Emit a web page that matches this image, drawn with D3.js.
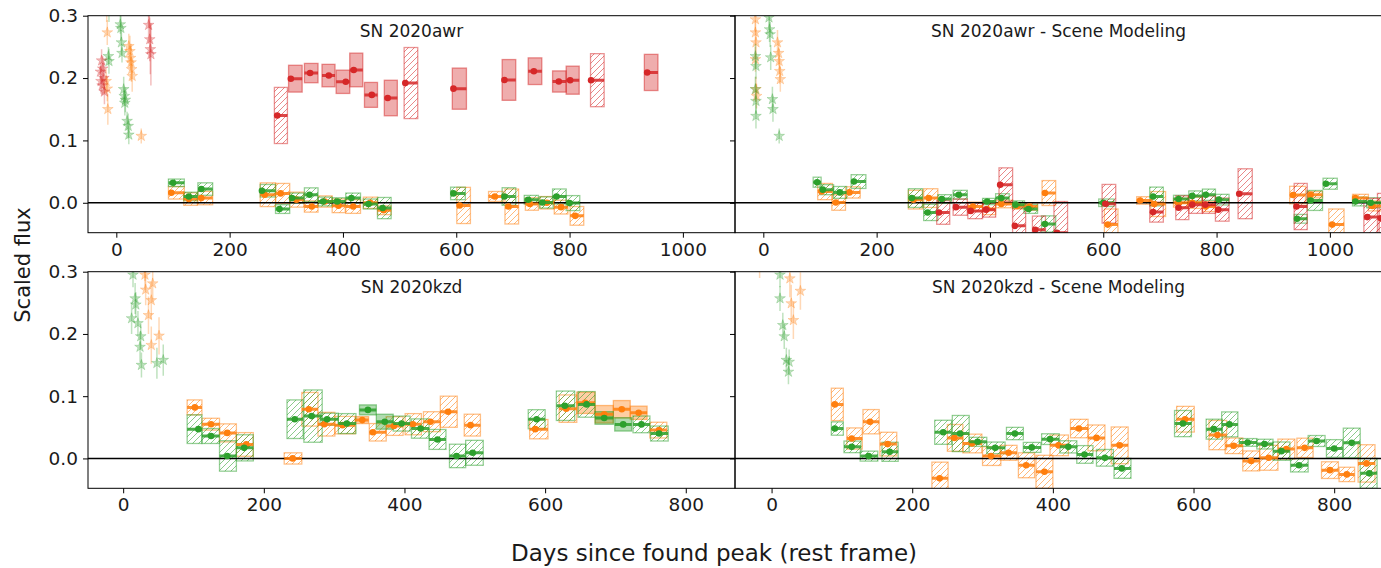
<!DOCTYPE html>
<html>
<head>
<meta charset="utf-8">
<script src="https://cdn.jsdelivr.net/npm/d3@7"></script>
<style>
  html, body { margin: 0; padding: 0; background: #fff; }
  svg { display: block; }
  text { font-family: "DejaVu Sans", sans-serif; }
</style>
</head>
<body>
<svg id="fig" width="1381" height="568"></svg>
<script>
// ---------------------------------------------------------------
// Early-time photometry: [day, flux, err]
// ---------------------------------------------------------------
const awrStarsI = [[-28,0.210,0.015],[-27,0.195,0.020],[-26,0.228,0.018],[-25,0.188,0.015],[-24,0.215,0.020],[-22,0.200,0.025],[-21,0.178,0.020],
                   [57,0.285,0.030],[58,0.310,0.030],[59,0.262,0.035],[60,0.246,0.040],[61,0.238,0.050]];
const awrStarsR = [[-17,0.310,0.020],[-16,0.273,0.020],[-16,0.183,0.020],[-15,0.150,0.025],[-18,0.195,0.020],
                   [22,0.251,0.020],[24,0.243,0.025],[25,0.232,0.020],[26,0.225,0.030],[27,0.214,0.020],[28,0.203,0.025],[44,0.107,0.012]];
const awrStarsG = [[-14,0.235,0.015],[-13,0.227,0.020],[-13,0.310,0.020],
                   [7,0.286,0.015],[8,0.280,0.020],[9,0.257,0.020],[10,0.240,0.015],
                   [13,0.182,0.020],[14,0.171,0.015],[15,0.160,0.020],[16,0.165,0.020],
                   [19,0.131,0.015],[21,0.123,0.020],[22,0.109,0.015]];

const awrSceneStarsR = [[-14,0.294,0.020],[-14,0.273,0.020],[-13,0.257,0.020],[-14,0.230,0.020],[-13,0.182,0.020],[-12,0.171,0.020],
                        [25,0.257,0.020],[27,0.240,0.020],[28,0.227,0.020],[29,0.211,0.020],[30,0.198,0.020]];
const awrSceneStarsG = [[-14,0.235,0.020],[-13,0.219,0.020],[-14,0.182,0.020],[-13,0.163,0.020],[-13,0.139,0.020],
                        [10,0.297,0.020],[11,0.278,0.020],[12,0.270,0.020],[13,0.233,0.020],
                        [16,0.166,0.020],[17,0.150,0.020],[28,0.107,0.012]];

const kzdStarsR = [[31,0.295,0.025],[31,0.310,0.025],[32,0.271,0.025],[42,0.281,0.030],[40,0.254,0.030],[36,0.230,0.030],[40,0.182,0.030],[51,0.197,0.030]];
const kzdStarsG = [[14,0.295,0.020],[17,0.257,0.025],[18,0.247,0.020],[12,0.225,0.025],[21,0.217,0.020],[25,0.196,0.020],
                   [24,0.179,0.025],[26,0.150,0.020],[48,0.153,0.025],[57,0.158,0.025]];

const kzdSceneStarsR = [[-17,0.310,0.020],[26,0.289,0.030],[28,0.249,0.030],[31,0.222,0.030],[41,0.269,0.030]];
const kzdSceneStarsG = [[12,0.295,0.020],[12,0.257,0.020],[16,0.214,0.020],[18,0.196,0.020],[21,0.158,0.020],[25,0.155,0.020],[24,0.139,0.020]];

// ---------------------------------------------------------------
// Binned late-time flux: [binStart, binEnd, meanDay, flux, err, detected]
// ---------------------------------------------------------------
const awrBinsI = [[279,302,284,0.140,0.045,0],[304,328,308,0.199,0.0215,1],[332,356,342,0.208,0.0155,1],[363,386,375,0.204,0.018,1],
                  [388,412,405,0.194,0.0187,1],[412,435,419,0.213,0.027,1],[438,461,451,0.173,0.020,1],[473,496,479,0.168,0.0285,1],
                  [508,532,510,0.192,0.057,0],[593,618,595,0.183,0.033,1],[681,705,685,0.197,0.0327,1],[727,751,737,0.211,0.0214,1],
                  [770,794,781,0.1945,0.017,1],[794,817,801,0.1966,0.0225,1],[837,861,838,0.1966,0.0425,0],[932,956,937,0.209,0.029,1]];
const awrBinsR = [[92,120,97,0.016,0.010,0],[119,143,128,0.006,0.010,0],[144,170,150,0.0075,0.0107,0],[254,281,262,0.0129,0.019,0],
                  [281,306,290,0.015,0.016,0],[306,331,318,0.005,0.012,0],[332,356,345,-0.006,0.009,0],[356,381,368,0.002,0.009,0],
                  [381,404,392,-0.0048,0.011,0],[405,431,418,-0.006,0.011,0],[436,461,448,0.000,0.009,0],[461,485,472,-0.012,0.007,0],
                  [601,625,606,-0.0043,0.029,0],[657,683,668,0.0101,0.008,0],[686,710,692,-0.006,0.028,0],[722,745,730,-0.002,0.010,0],
                  [748,773,760,0.000,0.010,0],[773,797,785,-0.007,0.011,0],[801,825,810,-0.021,0.015,0]];
const awrBinsG = [[92,120,100,0.032,0.0060,0],[119,143,128,0.0101,0.0068,0],[144,170,150,0.022,0.010,0],[254,281,257,0.0193,0.010,0],
                  [281,306,288,-0.0101,0.007,0],[306,331,310,0.0075,0.008,0],[332,356,341,0.0129,0.011,0],[356,381,365,0.002,0.007,0],
                  [381,404,390,0.002,0.006,0],[405,431,415,0.0075,0.008,0],[436,461,445,-0.002,0.008,0],[461,485,470,-0.0085,0.017,0],
                  [590,616,595,0.015,0.010,0],[681,705,685,0.0101,0.014,0],[720,745,727,0.0048,0.007,0],[747,771,752,0.0005,0.009,0],
                  [770,794,777,0.0101,0.012,0],[794,818,800,-0.0005,0.012,0]];

const awrSceneBinsI = [[306,329,310,-0.0155,0.019,0],[335,360,340,-0.007,0.013,0],[361,387,366,-0.013,0.0125,0],[387,410,393,-0.011,0.012,0],
                       [416,440,418,0.029,0.027,0],[440,463,444,-0.037,0.030,0],[475,498,480,-0.0434,0.022,0],[513,537,518,-0.048,0.050,0],
                       [598,622,604,-0.0016,0.031,0],[682,706,688,-0.015,0.016,0],[728,751,733,-0.008,0.019,0],[751,775,757,-0.003,0.014,0],
                       [775,798,780,-0.003,0.014,0],[798,822,803,-0.011,0.0185,0],[838,863,840,0.0145,0.040,0],[937,960,941,-0.006,0.037,0],
                       [1060,1087,1066,-0.023,0.030,0],[1084,1109,1090,-0.025,0.040,0]];
const awrSceneBinsR = [[96,122,103,0.018,0.013,0],[121,145,128,0.0005,0.0125,0],[145,171,152,0.0166,0.009,0],[256,281,265,0.005,0.015,0],
                       [283,308,292,0.0075,0.015,0],[361,387,370,-0.006,0.007,0],[387,410,395,-0.010,0.009,0],[410,440,420,-0.002,0.006,0],
                       [440,463,448,-0.005,0.005,0],[463,484,470,-0.006,0.006,0],[492,516,497,0.0156,0.020,0],[602,626,608,-0.035,0.025,0],
                       [659,687,665,0.0037,0.006,0],[684,710,690,-0.002,0.020,0],[724,749,733,0.000,0.007,0],[749,775,757,0.000,0.009,0],
                       [775,798,781,-0.006,0.008,0],[929,957,935,0.0124,0.014,0],[960,987,966,0.0129,0.005,0],[998,1025,1004,-0.035,0.025,0],
                       [1040,1068,1045,0.0075,0.006,0],[1068,1091,1075,-0.005,0.008,0]];
const awrSceneBinsG = [[88,102,95,0.033,0.008,0],[100,124,105,0.021,0.008,0],[124,147,135,0.0166,0.0095,0],[155,181,160,0.034,0.011,0],
                       [256,281,262,0.0075,0.015,0],[283,308,290,-0.0155,0.013,0],[308,332,315,0.006,0.007,0],[335,360,345,0.0129,0.007,0],
                       [387,410,395,0.002,0.005,0],[410,434,420,0.0075,0.007,0],[440,461,445,-0.003,0.006,0],[460,484,468,-0.010,0.007,0],
                       [491,516,497,-0.034,0.013,0],[592,619,600,0.000,0.006,0],[682,706,688,0.0101,0.015,0],[724,751,733,0.006,0.006,0],
                       [751,775,757,0.011,0.008,0],[775,798,781,0.0129,0.009,0],[798,822,804,0.005,0.0085,0],[937,960,942,-0.0257,0.007,0],
                       [960,987,966,0.0037,0.016,0],[988,1013,993,0.0305,0.0088,0],[1040,1065,1045,0.002,0.007,0],[1065,1091,1072,0.000,0.008,0]];

const kzdBinsR = [[91,112,102,0.082,0.012,0],[112,137,125,0.055,0.0095,0],[137,161,148,0.041,0.0145,0],[161,185,175,0.0225,0.019,0],
                  [229,254,241,0.000,0.009,0],[254,277,264,0.079,0.027,0],[277,301,286,0.055,0.019,0],[301,330,312,0.0535,0.014,0],
                  [330,349,340,0.0616,0.0056,1],[350,374,355,0.042,0.014,0],[374,398,385,0.052,0.015,0],[401,424,412,0.055,0.017,0],
                  [427,451,437,0.059,0.016,0],[451,475,462,0.075,0.025,0],[485,508,494,0.0535,0.0175,0],[578,604,586,0.047,0.0155,0],
                  [620,645,630,0.080,0.022,0],[645,671,657,0.0894,0.0172,1],[671,697,684,0.071,0.0140,1],[697,721,709,0.079,0.014,1],
                  [721,745,733,0.0733,0.0107,1],[749,773,762,0.0455,0.0126,0]];
const kzdBinsG = [[91,112,107,0.047,0.023,0],[112,137,125,0.036,0.012,0],[137,161,148,0.004,0.0245,0],[161,185,172,0.017,0.021,0],
                  [233,256,244,0.063,0.031,0],[257,283,268,0.068,0.042,0],[280,306,290,0.063,0.0096,0],[306,331,318,0.056,0.016,0],
                  [336,360,348,0.078,0.008,1],[360,384,372,0.059,0.012,1],[384,408,396,0.056,0.012,0],[410,435,423,0.048,0.0155,0],
                  [435,459,447,0.0305,0.016,0],[464,487,474,0.004,0.0188,0],[487,512,497,0.009,0.020,0],[576,600,588,0.063,0.0153,0],
                  [616,642,628,0.0846,0.0236,0],[647,671,659,0.0868,0.0206,0],[671,697,684,0.065,0.0101,1],[699,723,711,0.0547,0.0107,1],
                  [725,749,737,0.0547,0.0134,0],[750,775,762,0.040,0.012,0]];

const kzdSceneBinsR = [[85,102,90,0.0868,0.026,0],[107,129,114,0.032,0.017,0],[130,153,140,0.059,0.0195,0],[154,178,165,0.023,0.019,0],
                       [228,251,239,-0.032,0.026,0],[250,272,260,0.033,0.0215,0],[272,299,285,0.024,0.015,0],[300,326,312,0.0037,0.015,0],
                       [325,349,337,0.009,0.012,0],[351,374,362,-0.011,0.020,0],[376,400,388,-0.0215,0.0265,0],[396,422,408,0.021,0.0166,0],
                       [425,450,437,0.048,0.0148,0],[450,474,462,0.033,0.0207,0],[483,507,495,0.021,0.0295,0],[576,601,588,0.063,0.0206,0],
                       [622,647,634,0.0375,0.0235,0],[645,670,657,0.0203,0.0125,0],[670,694,682,-0.004,0.016,0],[694,720,707,0.001,0.020,0],
                       [720,744,732,0.015,0.016,0],[747,770,758,0.017,0.0155,0],[782,806,794,-0.0188,0.0134,0],[807,829,818,-0.0257,0.0115,0],
                       [834,858,846,-0.008,0.030,0]];
const kzdSceneBinsG = [[85,102,90,0.048,0.0107,0],[103,127,114,0.0186,0.0093,0],[126,151,138,0.0037,0.008,0],[157,180,168,0.0106,0.0153,0],
                       [232,256,244,0.042,0.0193,0],[257,281,268,0.040,0.029,0],[281,306,293,0.0267,0.0072,0],[306,332,318,0.017,0.0093,0],
                       [334,358,346,0.040,0.0099,0],[358,383,370,0.0177,0.008,0],[384,409,396,0.031,0.0086,0],[410,434,422,0.0186,0.0098,0],
                       [434,457,445,0.0064,0.0142,0],[462,486,474,0.001,0.0134,0],[487,511,498,-0.016,0.016,0],[573,597,585,0.056,0.021,0],
                       [618,641,629,0.047,0.016,0],[640,663,651,0.0547,0.020,0],[665,690,677,0.0257,0.0062,0],[690,713,701,0.023,0.0078,0],
                       [713,737,725,0.0117,0.0147,0],[738,763,750,-0.011,0.0107,0],[763,787,775,0.028,0.0088,0],[789,812,800,0.016,0.0142,0],
                       [813,837,825,0.025,0.0236,0],[837,861,850,-0.024,0.024,0]];

// Axis ticks and labels
const yTicks = [0, 0.1, 0.2, 0.3];
const xTicksAwr = [0, 200, 400, 600, 800, 1000];
const xTicksKzd = [0, 200, 400, 600, 800];
const titles = ["SN 2020awr", "SN 2020awr - Scene Modeling", "SN 2020kzd", "SN 2020kzd - Scene Modeling"];
const xLabel = "Days since found peak (rest frame)";
const yLabel = "Scaled flux";

// ---------------------------------------------------------------
const colour = { r: "#ff7f0e", g: "#2ca02c", i: "#d62728" };
const bandOrder = ["r", "g", "i"];
const FONT = "DejaVu Sans, sans-serif";

const svg = d3.select("#fig");
const defs = svg.append("defs");

// diagonal hatch fill for marginal bins
Object.entries(colour).forEach(([b, c]) => {
  const p = defs.append("pattern")
    .attr("id", "hatch-" + b)
    .attr("patternUnits", "userSpaceOnUse")
    .attr("width", 6).attr("height", 6);
  p.append("path")
    .attr("d", "M-1,1 l2,-2 M0,6 l6,-6 M5,7 l2,-2")
    .attr("stroke", c).attr("stroke-width", 1).attr("stroke-opacity", 0.55)
    .attr("fill", "none");
});

const panels = [
  { title: titles[0], x0: 88,  x1: 735,  y0: 15.7,  y1: 232.7, xDomain: [-50, 1092], xTicks: xTicksAwr, yLabels: true,
    stars: { i: awrStarsI, r: awrStarsR, g: awrStarsG }, bins: { i: awrBinsI, r: awrBinsR, g: awrBinsG } },
  { title: titles[1], x0: 735, x1: 1382, y0: 15.7,  y1: 232.7, xDomain: [-50, 1092], xTicks: xTicksAwr, yLabels: false,
    stars: { r: awrSceneStarsR, g: awrSceneStarsG }, bins: { i: awrSceneBinsI, r: awrSceneBinsR, g: awrSceneBinsG } },
  { title: titles[2], x0: 88,  x1: 735,  y0: 271.7, y1: 488.3, xDomain: [-50, 870], xTicks: xTicksKzd, yLabels: true,
    stars: { r: kzdStarsR, g: kzdStarsG }, bins: { r: kzdBinsR, g: kzdBinsG } },
  { title: titles[3], x0: 735, x1: 1382, y0: 271.7, y1: 488.3, xDomain: [-52, 868], xTicks: xTicksKzd, yLabels: false,
    stars: { r: kzdSceneStarsR, g: kzdSceneStarsG }, bins: { r: kzdSceneBinsR, g: kzdSceneBinsG } }
];

const detected = d => d[5] === 1;

panels.forEach((p, k) => {
  const x = d3.scaleLinear().domain(p.xDomain).range([p.x0, p.x1]);
  const y = d3.scaleLinear().domain([-0.048, 0.3]).range([p.y1, p.y0]);
  const clipId = "clip-" + k;
  defs.append("clipPath").attr("id", clipId)
    .append("rect").attr("x", p.x0).attr("y", p.y0)
    .attr("width", p.x1 - p.x0).attr("height", p.y1 - p.y0);

  const g = svg.append("g");
  const plot = g.append("g").attr("clip-path", `url(#${clipId})`);

  // early light curve with error bars
  bandOrder.forEach(b => {
    const s = p.stars[b];
    if (!s) return;
    plot.append("g").selectAll("line").data(s).join("line")
      .attr("x1", d => x(d[0])).attr("x2", d => x(d[0]))
      .attr("y1", d => y(d[1] - d[2])).attr("y2", d => y(d[1] + d[2]))
      .attr("stroke", colour[b]).attr("stroke-opacity", 0.3).attr("stroke-width", 1.5);
    plot.append("g").selectAll("path").data(s).join("path")
      .attr("d", d3.symbol(d3.symbolStar, 36))
      .attr("transform", d => `translate(${x(d[0])},${y(d[1])})`)
      .attr("fill", colour[b]).attr("fill-opacity", 0.3)
      .attr("stroke", colour[b]).attr("stroke-opacity", 0.3).attr("stroke-width", 0.8);
  });

  // binned flux boxes: solid for detections, hatched otherwise
  bandOrder.forEach(b => {
    const s = p.bins[b];
    if (!s) return;
    plot.append("g").selectAll("rect").data(s).join("rect")
      .attr("x", d => x(d[0]))
      .attr("width", d => x(d[1]) - x(d[0]))
      .attr("y", d => y(d[3] + d[4]))
      .attr("height", d => y(d[3] - d[4]) - y(d[3] + d[4]))
      .attr("fill", d => detected(d) ? colour[b] : `url(#hatch-${b})`)
      .attr("fill-opacity", d => detected(d) ? 0.38 : 1)
      .attr("stroke", colour[b]).attr("stroke-opacity", 0.5).attr("stroke-width", 1.3);
  });

  // zero flux reference
  plot.append("line")
    .attr("x1", p.x0).attr("x2", p.x1)
    .attr("y1", y(0)).attr("y2", y(0))
    .attr("stroke", "#000").attr("stroke-width", 1.5);

  // bin values and mean epochs
  bandOrder.forEach(b => {
    const s = p.bins[b];
    if (!s) return;
    plot.append("g").selectAll("line").data(s).join("line")
      .attr("x1", d => x(d[0])).attr("x2", d => x(d[1]))
      .attr("y1", d => y(d[3])).attr("y2", d => y(d[3]))
      .attr("stroke", colour[b]).attr("stroke-opacity", 0.85).attr("stroke-width", 3);
    plot.append("g").selectAll("circle").data(s).join("circle")
      .attr("cx", d => x(d[2])).attr("cy", d => y(d[3])).attr("r", 3.3)
      .attr("fill", colour[b]);
  });

  // frame
  g.append("rect")
    .attr("x", p.x0).attr("y", p.y0)
    .attr("width", p.x1 - p.x0).attr("height", p.y1 - p.y0)
    .attr("fill", "none").attr("stroke", "#000").attr("stroke-width", 1);

  // axes
  const ax = g.append("g")
    .attr("transform", `translate(0,${p.y1})`)
    .call(d3.axisBottom(x).tickValues(p.xTicks).tickSize(5).tickPadding(5).tickFormat(d3.format("d")));
  const ay = g.append("g")
    .attr("transform", `translate(${p.x0},0)`)
    .call(d3.axisLeft(y).tickValues(yTicks).tickSize(5).tickPadding(5)
      .tickFormat(p.yLabels ? d3.format(".1f") : () => ""));
  [ax, ay].forEach(a => {
    a.select(".domain").remove();
    a.selectAll(".tick line").attr("stroke", "#000");
    a.selectAll(".tick text").attr("fill", "#1a1a1a")
      .attr("font-size", 18.5).attr("font-family", FONT);
  });

  // panel title
  g.append("text")
    .attr("x", (p.x0 + p.x1) / 2).attr("y", p.y0 + 21)
    .attr("text-anchor", "middle")
    .attr("font-size", 17).attr("font-family", FONT).attr("fill", "#1a1a1a")
    .text(p.title);
});

svg.append("text")
  .attr("x", 714).attr("y", 561)
  .attr("text-anchor", "middle")
  .attr("font-size", 23).attr("font-family", FONT).attr("fill", "#1a1a1a")
  .text(xLabel);

svg.append("text")
  .attr("transform", "translate(30,265) rotate(-90)")
  .attr("text-anchor", "middle")
  .attr("font-size", 21).attr("font-family", FONT).attr("fill", "#1a1a1a")
  .text(yLabel);
</script>
</body>
</html>
